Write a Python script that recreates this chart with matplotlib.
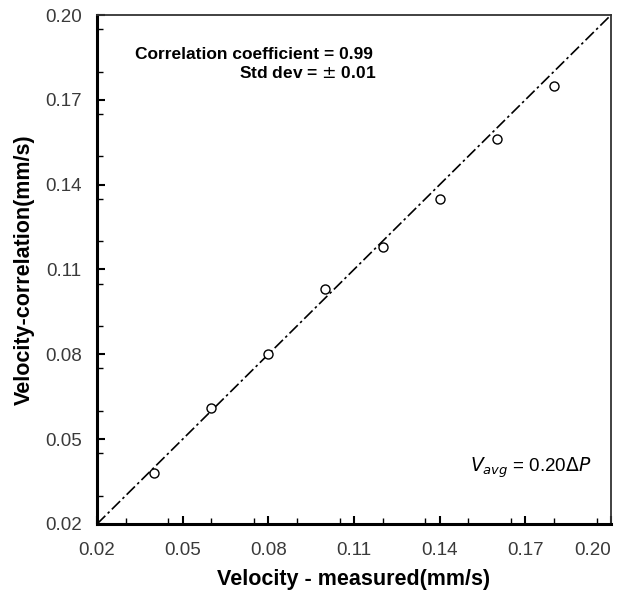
import numpy as np
import matplotlib.pyplot as plt
from matplotlib.ticker import MultipleLocator

plt.rcParams['font.family'] = ['Liberation Sans', 'DejaVu Sans']

# measured vs correlation velocities (mm/s)
v_meas = [0.04, 0.06, 0.08, 0.10, 0.12, 0.14, 0.16, 0.18]
v_corr = [0.038, 0.061, 0.080, 0.103, 0.118, 0.135, 0.156, 0.175]
ticks = [0.02, 0.05, 0.08, 0.11, 0.14, 0.17, 0.20]
tick_labels = ['0.02', '0.05', '0.08', '0.11', '0.14', '0.17', '0.20']

fig = plt.figure(figsize=(6.26, 5.91), dpi=100)
ax = fig.add_axes([0.155, 0.1134, 0.821, 0.8612])

ax.plot([0.02, 0.20], [0.02, 0.20], color='black', lw=1.2, dashes=(7, 2, 1.5, 2))
ax.plot(v_meas, v_corr, 'o', mfc='white', mec='black', ms=6.5, mew=1.0)

ax.set_xlim(0.02, 0.20)
ax.set_ylim(0.02, 0.20)
ax.set_xticks(ticks)
ax.set_xticklabels(tick_labels)
ax.set_yticks(ticks)
ax.set_yticklabels(tick_labels)
ax.xaxis.set_minor_locator(MultipleLocator(0.015))
ax.yaxis.set_minor_locator(MultipleLocator(0.015))
ax.tick_params(which='major', direction='in', length=6, width=1.5, labelsize=13.5,
               colors='black', labelcolor='#3a3a3a')
ax.tick_params(axis='y', which='major', pad=11)
ax.tick_params(axis='x', which='major', pad=13)
ax.tick_params(which='minor', direction='in', length=4, width=1.0)
# last x label sits inside the figure edge, as in the original
ax.get_xticklabels()[-1].set_horizontalalignment('right')
ax.get_xticklabels()[-1].set_x(0.2)

for s in ['left', 'bottom']:
    ax.spines[s].set_linewidth(2.2)
for s in ['top', 'right']:
    ax.spines[s].set_linewidth(1.3)
    ax.spines[s].set_color('#333333')

ax.set_xlabel('Velocity - measured(mm/s)', fontsize=15.5, fontweight='bold', labelpad=7)
ax.set_ylabel('Velocity-correlation(mm/s)', fontsize=15.5, fontweight='bold', labelpad=7)

ax.text(0.0333, 0.1859, 'Correlation coefficient = 0.99', fontsize=12.5, fontweight='bold',
        ha='left', va='center')
ax.text(0.118, 0.1795, 'Std dev = $\\pm$ 0.01', fontsize=12.5, fontweight='bold',
        ha='right', va='center')
ax.text(0.1506, 0.040, '$V_{avg}$ = 0.20$\\Delta P$', fontsize=13.5, ha='left', va='center')

fig.savefig('out.png', dpi=100)
